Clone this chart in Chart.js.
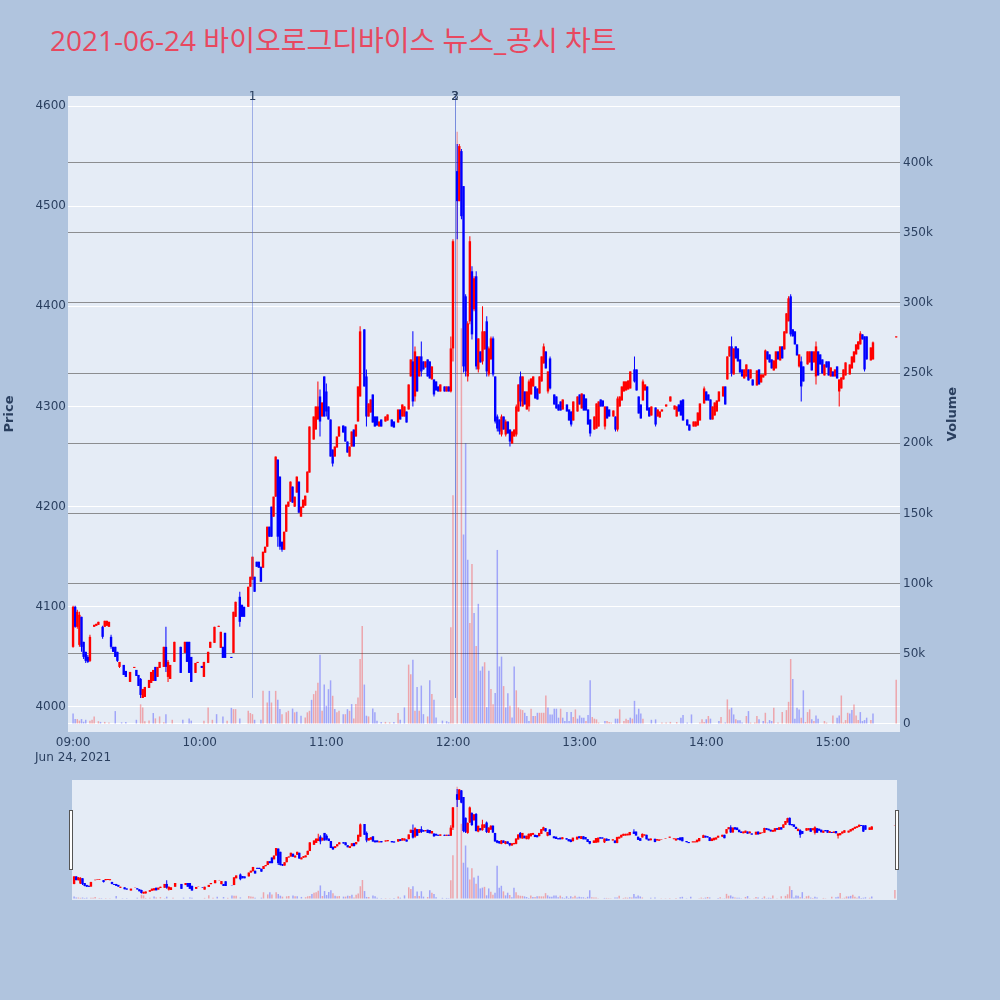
<!DOCTYPE html>
<html><head><meta charset="utf-8">
<script src="https://cdn.jsdelivr.net/npm/chart.js@4.4.1/dist/chart.umd.min.js"></script>
<style>
html,body{margin:0;padding:0;background:#b0c4de;width:1000px;height:1000px;overflow:hidden;}
#title{position:absolute;left:50px;top:26px;font-family:"Open Sans","Noto Sans CJK KR",sans-serif;font-size:28px;line-height:28px;color:rgb(232,72,95);white-space:pre;}
#main{position:absolute;left:0;top:0;width:1000px;height:780px;}
#slider{position:absolute;left:72px;top:780px;width:825px;height:120px;}
.handle{position:absolute;top:810px;width:2px;height:58px;background:#fff;border:1px solid #555;}
</style></head><body>
<div id="title">2021-06-24 바이오로그디바이스 뉴스_공시 차트</div>
<canvas id="main" width="1000" height="780"></canvas>
<canvas id="slider" width="825" height="120"></canvas>
<div class="handle" style="left:69px"></div>
<div class="handle" style="left:895px"></div>
<script>
// ---- candles: minute offset from 09:00, open, high, low, close ----
const cMin = [
 0,1,2,3,4,5,6,7,8,10, 11,12,14,15,16,17,18,19,20,21, 22,24,25,27,29,30,31,32,33,34, 36,37,38,39,40,41,43,44,45,46, 48,
 51,53,54,55,56,58,59,61,62,64, 65,67,69,70,71,72,75,76,77,79, 80,81,83,84,85,86,87,88,89,90, 91,92,93,94,95,96,97,98,99,100, 101,
 102,103,104,105,106,107,108,109,110,111, 112,114,115,116,117,118,119,120,121,122, 123,124,125,126,128,129,130,131,132,133, 134,135,136,138,139,140,141,142,143,144, 145,146,148,149,151,152,154,155,156,157, 158,159,160,161,162,163,164,165,166,167, 168,169,170,171,172,173,174,176,177,178, 179,180,
 182,183,184,185,186,187,188,189,190,191, 192,193,194,195,196,197,198,199,200,201, 202,203,204,205,206,207,208,209,210,211, 212,213,214,215,216,217,218,219,220,221, 222,223,224,225,226,228,229,
 230,231,232,234,235,236,237,239,240,241, 242,243,244,245,247,248,249,250,251,252, 253,254,256,257,258,259,260,261,262,263, 264,266,267,268,269,270,271,272,273,274, 276,277,278,279,281,283,285,286,287,288, 289,291,292,294,295,296,
 297,299,300,301,302,303,304,305,306,308, 309,310,311,312,313,314,315,316,317,318, 319,320,321,322,324,325,326,327,328,329, 330,331,332,333,334,335,336,337,338,339, 340,341,342,343,344,345,346,348,349,350, 351,352,353,354,355,356,357,358,359,360, 361,362,363,364,365,366,368,369,370,371, 372,373,374,375,376,378,379,390
];
const cOpen = [
 4060,4100,4080,4062,4090,4065,4055,4050,4046,4080, 4081,4082,4080,4080,4081,4080,4070,4060,4060,4055, 4040,4042,4036,4025,4039,4037,4032,4028,4009,4010, 4019,4024,4026,4040,4030,4039,4040,4060,4030,4028, 4045,
 4060,4054,4065,4065,4050,4034,4044,4041,4030,4044, 4059,4064,4080,4059,4060,4074,4050,4054,4090,4110, 4102,4100,4100,4120,4127,4130,4145,4145,4140,4139, 4154,4160,4180,4200,4190,4210,4247,4230,4165,4157, 4175,
 4200,4205,4220,4200,4214,4225,4190,4199,4201,4214, 4234,4267,4277,4287,4310,4290,4330,4315,4300,4287, 4257,4250,4259,4270,4281,4280,4265,4250,4260,4277, 4270,4285,4310,4377,4330,4290,4294,4312,4290,4290, 4280,4287,4285,4286,4287,4285,4284,4297,4290,4290, 4295,4297,4330,4345,4310,4350,4330,4350,4345,4339, 4347,4345,4327,4327,4325,4320,4315,4320,4315,4320, 4315,4358,
 4535,4505,4555,4520,4410,4330,4385,4435,4397,4430, 4337,4355,4345,4357,4385,4332,4347,4368,4330,4290, 4287,4272,4290,4272,4285,4277,4263,4270,4272,4295, 4330,4300,4315,4297,4300,4312,4320,4320,4318,4313, 4325,4343,4355,4315,4348,4312,4310,
 4302,4305,4297,4302,4297,4295,4286,4295,4312,4298, 4312,4308,4297,4287,4277,4278,4280,4307,4306,4280, 4300,4297,4290,4290,4277,4300,4306,4315,4316,4317, 4318,4337,4337,4310,4302,4306,4316,4320,4299,4291, 4299,4290,4289,4295,4300,4305,4297,4290,4302,4306, 4307,4287,4282,4280,4280,4281,
 4286,4303,4315,4312,4307,4287,4291,4295,4305,4310, 4320,4327,4350,4360,4332,4360,4358,4347,4337,4328, 4330,4337,4328,4327,4321,4337,4324,4329,4331,4355, 4352,4347,4336,4338,4355,4346,4360,4357,4373,4385, 4410,4377,4375,4362,4340,4345,4340,4342,4344,4355, 4344,4330,4355,4352,4347,4331,4345,4345,4330,4335, 4330,4340,4315,4318,4327,4331,4332,4338,4344,4352, 4357,4362,4372,4370,4370,4346,4347,4369
];
const cHigh = [
 4101,4101,4097,4095,4090,4065,4055,4052,4072,4082, 4083,4085,4081,4086,4086,4085,4072,4060,4060,4055, 4045,4042,4036,4035,4040,4037,4032,4029,4018,4020, 4027,4035,4037,4040,4040,4045,4060,4080,4047,4042, 4065,
 4060,4065,4065,4065,4050,4044,4045,4041,4045,4055, 4065,4080,4081,4075,4060,4074,4050,4095,4105,4115, 4102,4100,4120,4130,4150,4130,4145,4145,4140,4155, 4160,4180,4180,4200,4210,4250,4247,4230,4165,4175, 4202,
 4205,4225,4220,4210,4230,4225,4200,4207,4211,4235, 4280,4290,4300,4325,4317,4304,4330,4323,4300,4287, 4257,4260,4270,4280,4281,4280,4265,4260,4275,4277, 4282,4320,4380,4377,4337,4303,4307,4312,4290,4290, 4285,4287,4290,4292,4287,4285,4297,4297,4302,4300, 4295,4322,4347,4375,4360,4350,4350,4365,4345,4345, 4347,4345,4340,4327,4325,4320,4322,4320,4320,4320, 4370,4467,
 4562,4562,4557,4520,4412,4385,4470,4440,4430,4435, 4368,4355,4400,4375,4390,4360,4370,4370,4330,4292, 4287,4292,4290,4287,4285,4277,4275,4277,4302,4322, 4335,4330,4315,4315,4327,4328,4330,4320,4318,4330, 4350,4363,4355,4335,4350,4312,4310,
 4302,4305,4307,4302,4297,4295,4305,4310,4312,4313, 4312,4308,4297,4287,4290,4303,4305,4307,4306,4300, 4300,4297,4296,4290,4310,4310,4320,4325,4325,4326, 4335,4350,4337,4310,4302,4327,4322,4320,4299,4300, 4299,4297,4295,4297,4302,4310,4301,4300,4302,4306, 4307,4287,4282,4285,4285,4294,
 4303,4320,4315,4312,4307,4300,4304,4306,4315,4320, 4320,4350,4360,4370,4358,4360,4358,4347,4337,4337, 4342,4337,4337,4327,4336,4337,4332,4332,4357,4355, 4352,4347,4346,4355,4355,4360,4360,4375,4393,4410, 4412,4377,4375,4362,4352,4350,4340,4355,4355,4355, 4355,4365,4355,4352,4347,4342,4345,4345,4339,4335, 4337,4340,4327,4329,4337,4344,4342,4350,4355,4362, 4365,4375,4372,4370,4370,4359,4365,4370
];
const cLow = [
 4059,4079,4078,4060,4055,4048,4044,4044,4045,4080, 4081,4082,4068,4080,4081,4080,4058,4055,4050,4045, 4039,4032,4030,4025,4039,4031,4021,4009,4009,4010, 4019,4024,4026,4026,4030,4039,4040,4035,4025,4028, 4045,
 4034,4054,4045,4034,4025,4034,4044,4039,4030,4044, 4059,4064,4080,4059,4049,4049,4049,4054,4090,4080, 4090,4090,4100,4120,4127,4115,4140,4139,4125,4139, 4154,4160,4170,4170,4190,4210,4160,4157,4155,4157, 4175,
 4200,4205,4204,4200,4214,4194,4190,4199,4201,4214, 4234,4267,4277,4287,4270,4290,4290,4290,4287,4250, 4240,4250,4259,4270,4274,4265,4254,4250,4260,4260, 4270,4285,4310,4320,4280,4290,4294,4284,4280,4281, 4280,4280,4285,4286,4280,4279,4284,4287,4290,4290, 4284,4297,4330,4300,4305,4315,4330,4330,4337,4339, 4330,4328,4327,4310,4316,4315,4315,4315,4315,4315, 4314,4345,
 4467,4505,4487,4334,4330,4325,4382,4367,4395,4337, 4334,4344,4342,4357,4330,4330,4347,4330,4283,4275, 4272,4270,4277,4270,4273,4260,4263,4270,4270,4295, 4300,4300,4302,4297,4295,4312,4320,4308,4307,4313, 4325,4343,4338,4313,4317,4302,4298,
 4296,4296,4297,4295,4286,4280,4286,4295,4302,4298, 4296,4296,4282,4270,4277,4278,4280,4300,4300,4277, 4288,4290,4290,4275,4275,4300,4306,4315,4316,4317, 4318,4324,4316,4293,4288,4306,4316,4296,4290,4291, 4280,4290,4289,4295,4300,4305,4297,4290,4295,4291, 4286,4281,4276,4280,4280,4281,
 4286,4303,4306,4306,4287,4287,4291,4295,4305,4310, 4302,4327,4350,4330,4332,4348,4345,4334,4330,4328, 4330,4326,4328,4321,4321,4322,4324,4329,4331,4347, 4344,4338,4336,4338,4347,4346,4348,4357,4373,4385, 4370,4370,4362,4351,4339,4305,4325,4342,4344,4336, 4344,4322,4331,4342,4333,4331,4339,4331,4330,4330, 4330,4328,4300,4318,4327,4331,4332,4338,4344,4352, 4357,4362,4367,4335,4347,4346,4347,4369
];
const cClose = [
 4100,4080,4095,4092,4060,4050,4046,4045,4070,4082, 4083,4085,4070,4086,4086,4085,4060,4055,4050,4046, 4045,4032,4030,4035,4040,4031,4021,4012,4018,4020, 4027,4035,4037,4026,4040,4045,4060,4040,4045,4042, 4065,
 4034,4065,4045,4034,4025,4044,4045,4039,4045,4055, 4065,4080,4081,4075,4049,4049,4049,4095,4105,4085, 4090,4090,4120,4130,4150,4115,4140,4139,4125,4155, 4160,4180,4170,4170,4210,4250,4170,4160,4157,4175, 4202,
 4205,4225,4204,4210,4230,4194,4200,4207,4211,4235, 4280,4290,4300,4300,4285,4304,4290,4295,4287,4250, 4243,4260,4270,4280,4274,4265,4254,4260,4275,4260, 4282,4320,4375,4320,4290,4303,4307,4284,4280,4281, 4285,4280,4290,4292,4280,4279,4297,4287,4302,4300, 4284,4322,4347,4305,4355,4315,4350,4335,4337,4345, 4330,4328,4340,4312,4316,4315,4322,4315,4320,4315, 4358,4465,
 4505,4560,4490,4340,4335,4383,4465,4372,4428,4340, 4368,4344,4375,4375,4335,4358,4368,4332,4285,4278, 4275,4290,4277,4285,4273,4265,4275,4277,4300,4322, 4305,4330,4302,4315,4325,4328,4330,4308,4307,4330, 4350,4360,4338,4335,4318,4302,4298,
 4296,4296,4307,4295,4286,4282,4305,4310,4302,4313, 4296,4296,4282,4273,4290,4303,4305,4300,4300,4300, 4288,4290,4296,4277,4308,4310,4320,4325,4325,4326, 4335,4325,4316,4293,4288,4325,4322,4296,4290,4300, 4282,4297,4295,4297,4302,4310,4301,4300,4295,4291, 4286,4281,4276,4285,4285,4294,
 4303,4318,4306,4306,4287,4300,4304,4306,4315,4320, 4302,4350,4360,4333,4358,4348,4345,4334,4330,4337, 4342,4326,4337,4321,4336,4322,4332,4332,4356,4347, 4344,4338,4346,4355,4347,4360,4348,4375,4393,4408, 4372,4370,4362,4351,4352,4320,4325,4355,4355,4336, 4355,4360,4331,4342,4333,4342,4339,4331,4339,4330, 4337,4328,4327,4329,4337,4344,4342,4350,4355,4362, 4365,4373,4367,4337,4347,4359,4364,4370
];
// ---- volume (thousands of shares), minute offset, up(1)/down(0) ----
const volMin = [
 0,1,2,3,4,5,6,8,9,10, 12,13,15,17,20,23,25,30,32,33, 34,36,38,39,41,43,44,47,52,55, 56,62,64,66,68,71,73,75,76,77, 79,83,84,85,86,89,90,92,93,94, 96,97,98,99,101,102,104,105,106,108, 110,111,112,113,114,115,116,117,118,119, 120,121,122,123,124,125,126,128,129,130, 131,132,133,134,135,136,137,138,139,140, 142,143,144,146,148,150,152,154,155,157, 159,160,161,162,163,164,165,166,168,169, 170,171,172,175,177,178,
 179,180,182,184,185,186,187,188,189,190, 191,192,193,194,195,196,197,198,199,200, 201,202,203,204,205,206,207,208,209,210, 211,212,213,214,215,216,217,218,219,220, 221,222,223,224,225,226,227,228,229,230, 231,232,233,234,235,236,237,238,239,240, 241,242,243,244,245,246,247,248,249,252, 253,254,255,257,258,259,261,262,263,264, 265,266,267,268,269,270,274,276,279,281, 283,286,288,289,291,293,297,298,299,300, 301,302,306,307,308,309,310,311,312,313, 314,315,316,317,319,320,321,323,324,325, 327,328,329,330,331,332,334,336,338,339, 340,341,342,343,344,345,346,347,348,349, 350,351,352,353,356,357,360,362,363,364, 365,366,367,368,369,370,371,372,373,374, 375,376,378,379,390
];
const volK = [
 7.5,3.5,3.5,2.4,3.5,1.6,3,2.4,3,5.4, 2,1.5,1.5,1,9.2,1.2,1.5,3,14,11.8, 2,2.5,7.8,4,5.4,1.2,7,3,3,4, 2.4,2.4,11.8,3,7,5.4,2.4,11.5,10.6,10.6, 4,9.4,7.8,7,3,3,23.6,15.3,23.6,15.3, 23.6,17.2,10.6,7,8.3,9.4,11,8.3,8.7,5.9, 4.7,8.3,9.4,17.2,21.3,23.6,29.3,49.3,9.4,28.1, 13,24.8,31.1,20.1,10.6,8.3,9.4,7,7,10.6, 9.4,14.2,4,14.2,18.9,46.3,69.9,28.1,5.9,5.4, 11,8.3,2.4,1.5,1.5,1.2,1.5,7.8,3,11.8, 42.3,35.4,45.8,9.4,26.4,9.4,27.4,7,5.4,31.1, 21.3,17.2,4.7,2.4,2,1.2,
 69,163,422,282,135,200,117,72,114,79, 55.5,85.6,38,41,44,12,38,25,14,22, 124,41,48,27,11.8,21.9,13,4.7,41,24, 11.8,10.4,9.9,8,5.7,2.1,10.9,5.7,5.7,8, 8,8,8,20.3,11.8,6.8,6.8,10.9,10.9,4.5, 10.9,4.5,2.1,8.5,2.1,8.5,5,10.4,3.8,6.1, 4.5,4.5,2.1,6.4,31.1,5,3.8,3.3,1,2.1, 2.1,1.4,1,3.8,3.8,10.4,2.1,3.8,2.8,4.5, 3.8,16.5,6.8,10.9,7.5,3.8,3,3.3,1,1, 1.5,1.4,4.5,6.4,1,6.8,1,3.3,1.4,3.3, 5.7,3.8,2.1,5,0.5,1,17.5,10.4,11.6,6.8, 3.3,2.6,2.6,1,5.7,9.2,1,1,5.7,3.3, 2.1,8,1,2.8,2.1,11.6,1,8.5,9.9,15.8, 46.3,32.1,3.8,11.6,10.4,4.5,24,1.4,8.5,10.4, 3.3,2.1,6.1,3.8,2.1,1,6.1,4.5,6.1,20.3, 1,2.8,8,7.5,9.9,13.9,6.1,2.8,8.5,2.1, 2.8,4.5,2.8,7.5,31.6
];
const volUp = [
 0,0,1,1,0,0,0,1,1,1, 1,0,1,1,0,0,0,0,1,1, 1,1,0,1,1,1,0,1,0,0, 0,1,1,1,0,0,1,0,1,1, 0,1,1,1,0,0,1,1,0,1, 1,0,0,1,1,1,0,1,0,0, 1,1,1,0,1,1,1,0,1,0, 0,0,0,1,0,1,1,0,1,0, 1,0,1,1,1,1,1,0,0,1, 0,0,0,0,1,1,0,1,0,0, 1,1,0,1,0,1,0,0,1,0, 1,0,0,0,0,0,
 1,1,1,1,0,0,0,1,1,0, 1,0,0,0,1,0,0,1,1,0, 0,0,0,1,0,0,1,0,0,1, 1,1,1,0,0,0,1,0,1,0, 1,1,1,1,0,0,0,0,0,0, 1,0,0,0,0,0,1,1,0,0, 0,0,1,0,0,1,1,1,1,0, 1,1,1,0,0,1,1,1,1,0, 1,0,0,0,0,1,0,0,1,1, 1,1,0,0,0,0,1,1,1,0, 1,0,0,1,1,0,1,1,0,0, 1,0,0,0,1,0,1,1,1,0, 0,1,0,0,0,1,1,1,1,1, 1,0,0,0,0,1,0,1,1,1, 0,1,0,0,1,1,1,0,0,1, 1,1,1,0,0,1,1,1,0,0, 0,0,1,0,1
];
// ---- axis ticks / labels ----
const priceTicks = [4000,4100,4200,4300,4400,4500,4600];
const volTicks = [0,50,100,150,200,250,300,350,400];
const timeTicks = [0,60,120,180,240,300,360];
const timeLabels = ['09:00','10:00','11:00','12:00','13:00','14:00','15:00'];
const dateLabel = 'Jun 24, 2021';
// ---- news markers ----
const newsMin = [85,181,181];
const newsText = ['1','2','3'];

const FONT = '"DejaVu Sans", sans-serif';
const TXT = '#2a3f5f';
Chart.defaults.font.family = FONT;
Chart.defaults.font.size = 12;

const RED = '#ff0000', BLUE = '#0000ff';
const candleColors = cMin.map((_, i) => cClose[i] >= cOpen[i] ? RED : BLUE);
const wickData = cMin.map((m, i) => ({x: m, y: [cLow[i], cHigh[i]]}));
const bodyData = cMin.map((m, i) => ({x: m, y: [Math.min(cOpen[i], cClose[i]), Math.max(cOpen[i], cClose[i])]}));
const volData = volMin.map((m, i) => ({x: m, y: volK[i]}));
const volColors = volUp.map(u => u ? 'rgba(255,0,0,0.3)' : 'rgba(0,0,255,0.3)');
const lowest = Math.min(...cLow);

function datasets(wBody) {
  return [
    {data: volData, yAxisID: 'yVol', backgroundColor: volColors, barThickness: 1.5, grouped: false, order: 3, inflateAmount: 0},
    {data: wickData, yAxisID: 'yP', backgroundColor: candleColors, barThickness: 1, grouped: false, order: 2, inflateAmount: 0},
    {data: bodyData, yAxisID: 'yP', backgroundColor: candleColors, barThickness: wBody, grouped: false, order: 1, inflateAmount: 0}
  ];
}

const bgPlugin = {
  id: 'bg',
  beforeDraw(chart) {
    const {ctx, chartArea: a} = chart;
    ctx.save(); ctx.fillStyle = '#e5ecf6';
    ctx.fillRect(a.left, a.top, a.right - a.left, a.bottom - a.top);
    ctx.restore();
  }
};

const overlayPlugin = {
  id: 'overlay',
  afterDatasetsDraw(chart) {
    const {ctx, chartArea: a, scales} = chart;
    ctx.save();
    ctx.strokeStyle = 'rgba(70,100,210,0.45)'; ctx.lineWidth = 1;
    newsMin.forEach(m => {
      const px = Math.round(scales.x.getPixelForValue(m)) + 0.5;
      ctx.beginPath(); ctx.moveTo(px, a.top); ctx.lineTo(px, scales.yP.getPixelForValue(lowest)); ctx.stroke();
    });
    ctx.restore();
  },
  afterDraw(chart) {
    const {ctx, chartArea: a, scales} = chart;
    ctx.save();
    ctx.fillStyle = TXT; ctx.textAlign = 'center'; ctx.textBaseline = 'middle';
    ctx.font = '12px ' + FONT;
    newsMin.forEach((m, i) => ctx.fillText(newsText[i], scales.x.getPixelForValue(m), a.top + 1));
    ctx.font = 'bold 13px ' + FONT;
    const mid = (a.top + a.bottom) / 2;
    [['Price', 10], ['Volume', 953]].forEach(([t, x]) => {
      ctx.save(); ctx.translate(x, mid); ctx.rotate(-Math.PI / 2); ctx.fillText(t, 0, 0); ctx.restore();
    });
    ctx.restore();
  }
};

new Chart(document.getElementById('main'), {
  type: 'bar',
  data: {datasets: datasets(2.4)},
  options: {
    responsive: false, animation: false, devicePixelRatio: 1,
    layout: {padding: {top: 96, left: 0, right: 0, bottom: 0}},
    plugins: {legend: {display: false}, tooltip: {enabled: false}},
    scales: {
      x: {
        type: 'linear', min: -2.4, max: 391.8, offset: false,
        grid: {display: false, drawTicks: false}, border: {display: false},
        afterBuildTicks: s => { s.ticks = timeTicks.map(v => ({value: v})); },
        afterFit: s => { s.height = 48; },
        ticks: {
          autoSkip: false, maxRotation: 0, padding: 3, color: TXT,
          font: {size: 12, lineHeight: 1.25},
          callback: v => { const i = timeTicks.indexOf(v); return i === 0 ? [timeLabels[0], dateLabel] : timeLabels[i]; }
        }
      },
      yP: {
        type: 'linear', position: 'left', min: 3975, max: 4610,
        grid: {color: '#ffffff', lineWidth: 1, drawTicks: false}, border: {display: false},
        afterBuildTicks: s => { s.ticks = priceTicks.map(v => ({value: v})); },
        afterFit: s => { s.width = 68; },
        ticks: {padding: 2, color: TXT, callback: v => String(v)}
      },
      yVol: {
        type: 'linear', position: 'right', min: -5.7, max: 447.4,
        grid: {color: c => c.tick && c.tick.value === 0 ? '#ffffff' : 'rgba(110,110,110,0.75)', lineWidth: 1, drawTicks: false},
        border: {display: false},
        afterBuildTicks: s => { s.ticks = volTicks.map(v => ({value: v})); },
        afterFit: s => { s.width = 100; },
        ticks: {padding: 3, color: TXT, callback: v => v === 0 ? '0' : v + 'k'}
      }
    }
  },
  plugins: [bgPlugin, overlayPlugin]
});

new Chart(document.getElementById('slider'), {
  type: 'bar',
  data: {datasets: datasets(2.4)},
  options: {
    responsive: false, animation: false, devicePixelRatio: 1,
    layout: {padding: 0},
    plugins: {legend: {display: false}, tooltip: {enabled: false}},
    scales: {
      x: {type: 'linear', display: false, min: -1, max: 391, offset: false},
      yP: {type: 'linear', display: false, min: 3975, max: 4610},
      yVol: {type: 'linear', display: false, min: -5.7, max: 447.4}
    }
  },
  plugins: [bgPlugin]
});
</script>
</body></html>
